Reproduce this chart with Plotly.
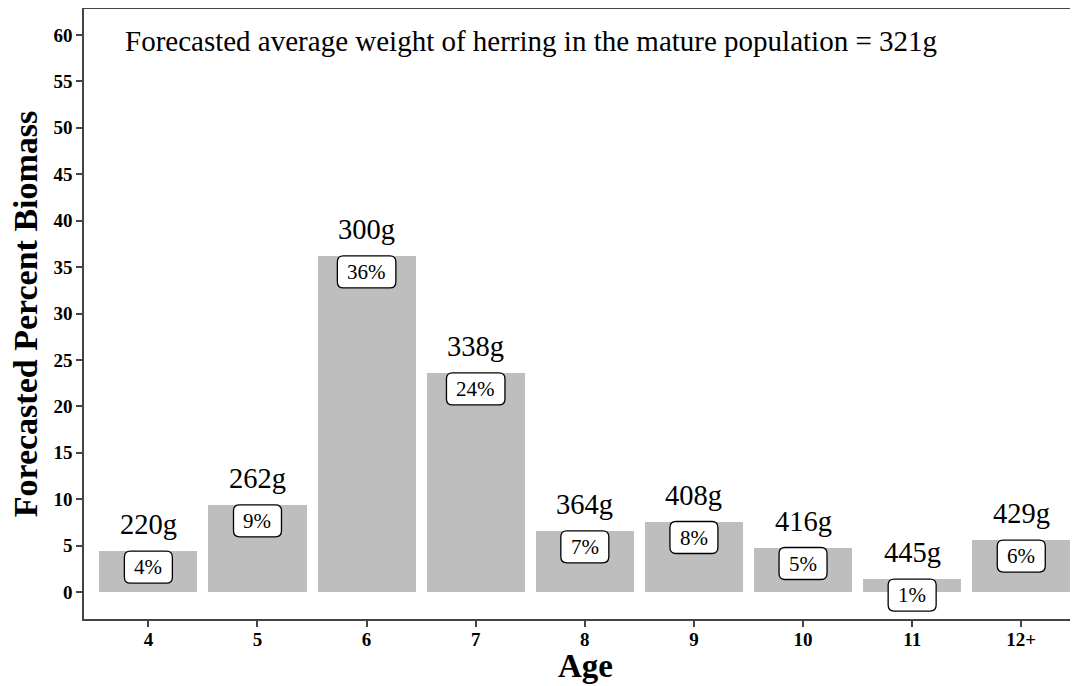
import plotly.graph_objects as go

ages = ["4", "5", "6", "7", "8", "9", "10", "11", "12+"]
biomass_pct = [4.4, 9.4, 36.2, 23.6, 6.6, 7.6, 4.8, 1.4, 5.6]
pct_labels = ["4%", "9%", "36%", "24%", "7%", "8%", "5%", "1%", "6%"]
weight_labels = ["220g", "262g", "300g", "338g", "364g", "408g", "416g", "445g", "429g"]
title_text = "Forecasted average weight of herring in the mature population = 321g"
x_title = "Age"
y_title = "Forecasted Percent Biomass"
y_ticks = list(range(0, 61, 5))

SERIF = "Liberation Serif, Times New Roman, serif"
PCT_FONT = 21

fig = go.Figure()
fig.add_trace(go.Bar(
    x=ages, y=biomass_pct, width=0.9,
    marker=dict(color="#BEBEBE", line=dict(width=0)),
    hoverinfo="skip", showlegend=False,
))


def text_width(s, size):
    w = 0
    for ch in s:
        w += 0.833 if ch == "%" else 0.5
    return w * size


def rounded_box(w, h, r):
    x0, x1 = -w / 2, w / 2
    y0, y1 = -h, 0
    return (f"M {x0 + r},{y1} L {x1 - r},{y1} Q {x1},{y1} {x1},{y1 - r} "
            f"L {x1},{y0 + r} Q {x1},{y0} {x1 - r},{y0} "
            f"L {x0 + r},{y0} Q {x0},{y0} {x0},{y0 + r} "
            f"L {x0},{y1 - r} Q {x0},{y1} {x0 + r},{y1} Z")


for i, (age, v, pl, wl) in enumerate(zip(ages, biomass_pct, pct_labels, weight_labels)):
    bw = text_width(pl, PCT_FONT) + 20
    fig.add_shape(
        type="path", xref="x", yref="y",
        xsizemode="pixel", ysizemode="pixel",
        xanchor=i, yanchor=v,
        path=rounded_box(bw, 32, 6),
        fillcolor="white", line=dict(color="black", width=1.3),
        layer="above",
    )
    fig.add_annotation(
        x=i, y=v, xref="x", yref="y", text=pl, showarrow=False,
        yanchor="middle", yshift=-16,
        font=dict(family=SERIF, size=PCT_FONT, color="black"),
    )
    fig.add_annotation(
        x=i, y=v, xref="x", yref="y", text=wl, showarrow=False,
        yanchor="bottom", yshift=9,
        font=dict(family=SERIF, size=28.5, color="black"),
    )

fig.add_annotation(
    x=0.039, y=0.9475, xref="paper", yref="paper", text=title_text,
    showarrow=False, xanchor="left", yanchor="middle",
    font=dict(family=SERIF, size=29, color="black"),
)
# axis titles
fig.add_annotation(
    x=0.505, y=-0.077, xref="paper", yref="paper", text=f"<b>{x_title}</b>",
    showarrow=False, xanchor="center", yanchor="middle", borderpad=0,
    font=dict(family=SERIF, size=33, color="black"),
)
fig.add_annotation(
    x=-0.059, y=0.5, xref="paper", yref="paper", text=f"<b>{y_title}</b>",
    showarrow=False, xanchor="center", yanchor="middle", textangle=-90, borderpad=0,
    font=dict(family=SERIF, size=34, color="black"),
)

axis_color = "#444444"
# the page body has an 8px default margin, so the figure is sized to fill the
# remaining 1070x678 of the window
fig.update_layout(
    width=1070, height=678,
    margin=dict(l=76, r=0, t=1, b=67, autoexpand=False),
    paper_bgcolor="white", plot_bgcolor="white",
    bargap=0,
    xaxis=dict(
        type="category", range=[-0.59, 8.52], automargin=False,
        showline=True, linecolor=axis_color, linewidth=1.5, mirror=True,
        ticks="outside", ticklen=6, tickwidth=1.5, tickcolor=axis_color,
        ticklabelstandoff=-4,
        tickfont=dict(family=SERIF, size=19, color="black", weight="bold"),
        showgrid=False, zeroline=False,
    ),
    yaxis=dict(
        range=[-2.9, 62.8], tickvals=y_ticks, automargin=False,
        showline=True, linecolor=axis_color, linewidth=1.5,
        ticks="outside", ticklen=6, tickwidth=1.5, tickcolor=axis_color,
        tickfont=dict(family=SERIF, size=19, color="black", weight="bold"),
        showgrid=False, zeroline=False,
    ),
)

fig.write_html("out.html")
